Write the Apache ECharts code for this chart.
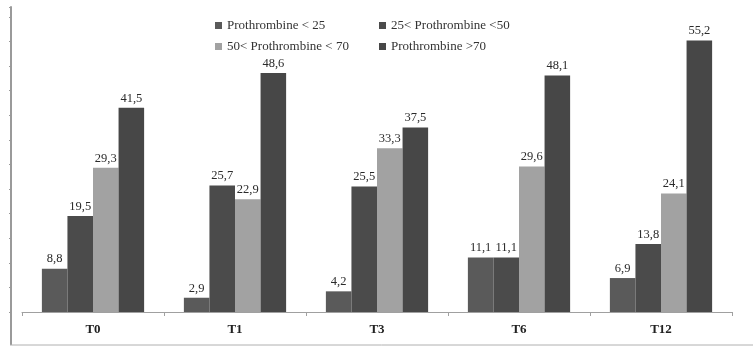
<!DOCTYPE html>
<html>
<head>
<meta charset="utf-8">
<script src="https://cdn.jsdelivr.net/npm/echarts@6/dist/echarts.min.js"></script>
<style>
  html, body { margin: 0; padding: 0; background: #fff; }
  #chart { width: 753px; height: 347px; }
</style>
</head>
<body>
<div id="chart"></div>
<script>
var categories = ["T0", "T1", "T3", "T6", "T12"];
var seriesNames = ["Prothrombine < 25", "25< Prothrombine <50", "50< Prothrombine < 70", "Prothrombine >70"];
var lt25 = [8.8, 2.9, 4.2, 11.1, 6.9];
var p25to50 = [19.5, 25.7, 25.5, 11.1, 13.8];
var p50to70 = [29.3, 22.9, 33.3, 29.6, 24.1];
var gt70 = [41.5, 48.6, 37.5, 48.1, 55.2];
var colors = ["#5a5a5a", "#4b4b4b", "#a2a2a2", "#474747"];

var font = "Liberation Serif";
var chart = echarts.init(document.getElementById("chart"));

function makeSeries(name, data, color) {
  return {
    name: name,
    type: "bar",
    data: data,
    barGap: "0%",
    barCategoryGap: "28%",
    itemStyle: { color: color },
    label: {
      show: true,
      position: "top",
      distance: 3,
      fontFamily: font,
      fontSize: 12.5,
      color: "#2a2a2a",
      formatter: function (p) { return String(p.value).replace(".", ","); }
    }
  };
}

var option = {
  animation: false,
  textStyle: { fontFamily: font },
  legend: [
    {
      orient: "vertical",
      left: 210, top: 14,
      itemGap: 8,
      itemWidth: 7, itemHeight: 7,
      icon: "rect",
      textStyle: { fontFamily: font, fontSize: 13, color: "#333" },
      data: [seriesNames[0], seriesNames[2]]
    },
    {
      orient: "vertical",
      left: 374, top: 14,
      itemGap: 8,
      itemWidth: 7, itemHeight: 7,
      icon: "rect",
      textStyle: { fontFamily: font, fontSize: 13, color: "#333" },
      data: [seriesNames[1], seriesNames[3]]
    }
  ],
  grid: { left: 22, right: 21, top: 7, bottom: 35 },
  xAxis: {
    type: "category",
    data: categories,
    axisLine: { lineStyle: { color: "#a0a0a0" } },
    axisTick: { show: true, length: 4, lineStyle: { color: "#a0a0a0" } },
    axisLabel: { fontFamily: font, fontSize: 13, fontWeight: "bold", color: "#222", margin: 11 }
  },
  yAxis: {
    type: "value",
    min: 0, max: 62, interval: 5,
    offset: 11,
    axisLine: { show: true, lineStyle: { color: "#9a9a9a", width: 2 } },
    axisTick: { show: true, length: 2, lineStyle: { color: "#9a9a9a" } },
    axisLabel: { show: false },
    splitLine: { show: false }
  },
  // frame of the picture: left line runs down to the bottom border
  graphic: [
    { type: "line", shape: { x1: 11, y1: 312, x2: 11, y2: 345 }, style: { stroke: "#9a9a9a", lineWidth: 2 } },
    { type: "line", shape: { x1: 10, y1: 345, x2: 753, y2: 345 }, style: { stroke: "#b0b0b0", lineWidth: 1 } }
  ],
  series: [
    makeSeries(seriesNames[0], lt25, colors[0]),
    makeSeries(seriesNames[1], p25to50, colors[1]),
    makeSeries(seriesNames[2], p50to70, colors[2]),
    makeSeries(seriesNames[3], gt70, colors[3])
  ]
};

chart.setOption(option);
window.addEventListener("resize", function () { chart.resize(); });
</script>
</body>
</html>
